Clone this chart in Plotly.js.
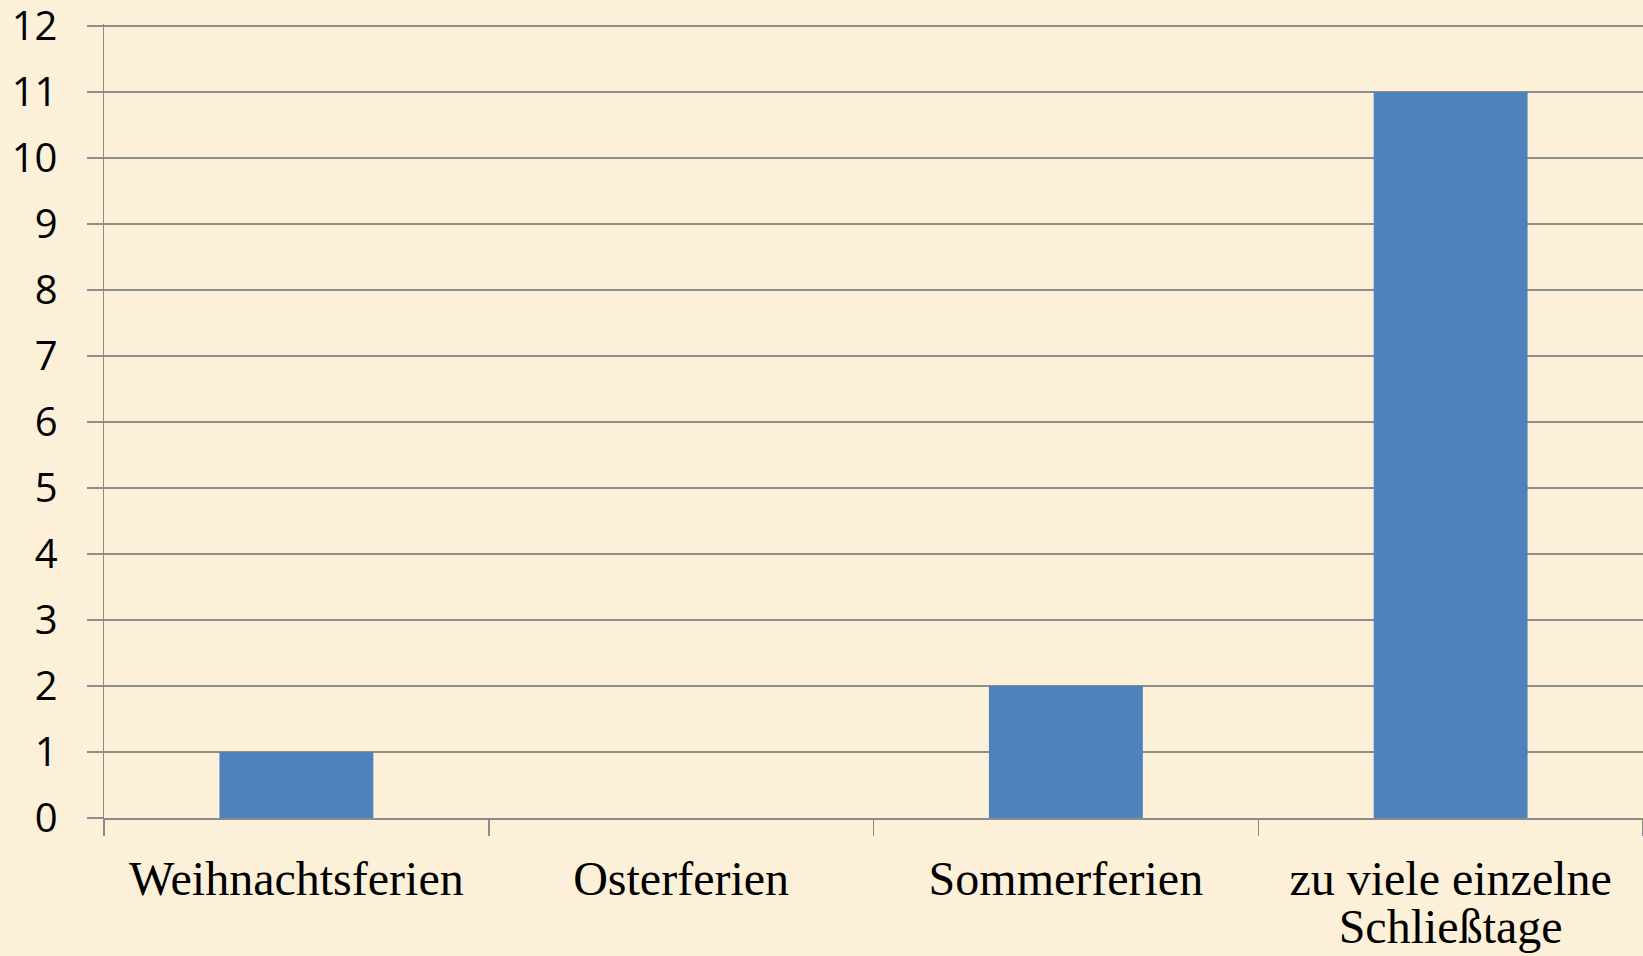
<!DOCTYPE html>
<html>
<head>
<meta charset="utf-8">
<script src="https://cdn.plot.ly/plotly-3.0.1.min.js"></script>
<style>
html,body{margin:0;padding:0;background:#fcf0d8;}
#chart{width:1643px;height:956px;}
</style>
</head>
<body>
<div id="chart"></div>
<script>
const categories = ['Weihnachtsferien', 'Osterferien', 'Sommerferien', 'zu viele einzelne<br>Schließtage'];
const values = [1, 0, 2, 11];
const yTicks = [0, 1, 2, 3, 4, 5, 6, 7, 8, 9, 10, 11, 12];

const trace = {
  type: 'bar',
  x: categories,
  y: values,
  marker: {color: '#4f81bd', line: {width: 0}},
  hoverinfo: 'none'
};

const layout = {
  width: 1643,
  height: 956,
  margin: {l: 104, r: 0, t: 24, b: 138},
  paper_bgcolor: '#fcf0d8',
  plot_bgcolor: 'rgba(0,0,0,0)',
  showlegend: false,
  bargap: 0.6,
  xaxis: {
    type: 'category',
    tickson: 'boundaries',
    ticks: 'outside',
    ticklen: 16,
    tickwidth: 1.5,
    tickcolor: '#8c8c8c',
    showline: true,
    linecolor: '#8c8c8c',
    linewidth: 1.5,
    showgrid: false,
    tickfont: {family: '"Liberation Serif", "Times New Roman", serif', size: 48, color: '#000'},
    ticklabelstandoff: 18
  },
  yaxis: {
    range: [0, 12.03],
    tickvals: yTicks,
    ticks: 'outside',
    ticklen: 16,
    tickwidth: 1.5,
    tickcolor: '#8c8c8c',
    showline: true,
    linecolor: '#8c8c8c',
    linewidth: 1.5,
    showgrid: true,
    gridcolor: '#8c8c8c',
    gridwidth: 1.5,
    zeroline: false,
    ticklabeloverflow: 'allow',
    tickfont: {family: '"Open Sans", sans-serif', size: 40, color: '#000'},
    ticklabelstandoff: 21
  }
};

Plotly.newPlot('chart', [trace], layout, {staticPlot: true}).then(function(gd){
  gd.querySelectorAll('.xtick text tspan.line').forEach(function(t){
    const dy = t.getAttribute('dy');
    if (dy && dy !== '0em' && dy !== '0') {
      t.setAttribute('dy', '1.0em');
    }
  });
});
</script>
</body>
</html>
